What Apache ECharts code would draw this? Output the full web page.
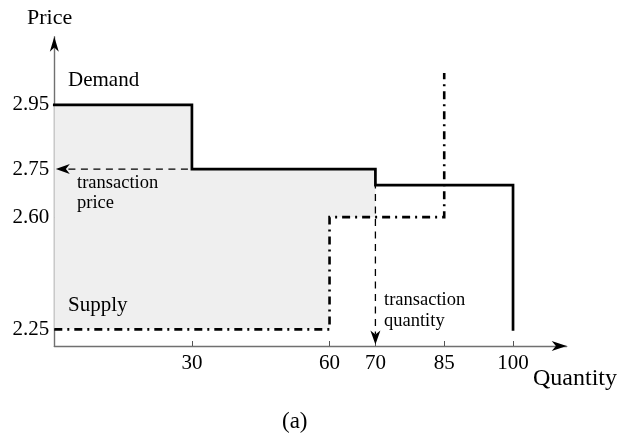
<!DOCTYPE html>
<html>
<head>
<meta charset="utf-8">
<script src="https://cdn.jsdelivr.net/npm/echarts@6/dist/echarts.min.js"></script>
<style>
  html, body { margin: 0; padding: 0; background: #fff; }
  #chart { width: 634px; height: 436px; }
</style>
</head>
<body>
<div id="chart"></div>
<script>
// Tick positions on both axes
const qtyTicks = [30, 60, 70, 85, 100];
const priceTicks = [2.25, 2.60, 2.75, 2.95];

// Demand curve: price steps between quantity breaks
const demandBreaks = [0, 30, 70, 100];
const demandPrices = [2.95, 2.75, 2.70];
const demandFloor = 2.25;      // the curve drops to this price at full quantity

// Supply curve: price steps between quantity breaks
const supplyBreaks = [0, 60, 85];
const supplyPrices = [2.25, 2.60];
const supplyCeiling = 3.05;    // the curve rises to this price at its last break

// Market clearing point
const transactionQty = 70;
const transactionPrice = 2.75;

// Axis extents
const qtyMin = 0, qtyMax = 111.7;
const priceMin = 2.198, priceMax = 3.163;

const FONT = 'Liberation Serif';

// Corner points of a step curve
function stepPoints(breaks, prices) {
  const pts = [];
  for (let i = 0; i < prices.length; i++) {
    pts.push([breaks[i], prices[i]], [breaks[i + 1], prices[i]]);
  }
  return pts;
}
// Step corner points, cut off at quantity q
function stepPointsUpTo(breaks, prices, q) {
  const pts = [];
  for (let i = 0; i < prices.length; i++) {
    const s = breaks[i];
    const e = Math.min(breaks[i + 1] === undefined ? q : breaks[i + 1], q);
    if (s < q) pts.push([s, prices[i]], [e, prices[i]]);
  }
  return pts;
}

const demandLine = stepPoints(demandBreaks, demandPrices)
  .concat([[demandBreaks[demandBreaks.length - 1], demandFloor]]);
const supplyLine = stepPoints(supplyBreaks.slice(0, supplyPrices.length + 1), supplyPrices)
  .concat([[supplyBreaks[supplyBreaks.length - 1], supplyCeiling]]);

// Region between supply and demand up to the transaction quantity
const surplusRegion = stepPointsUpTo(supplyBreaks, supplyPrices, transactionQty)
  .concat(stepPointsUpTo(demandBreaks, demandPrices, transactionQty).reverse());

// Filled arrow head with its tip on b, pointing away from a
function arrowHead(a, b, L, W) {
  const dx = b[0] - a[0], dy = b[1] - a[1];
  const len = Math.hypot(dx, dy);
  const ux = dx / len, uy = dy / len, nx = -uy, ny = ux;
  const notch = [b[0] - ux * L * 0.72, b[1] - uy * L * 0.72];
  return {
    notch: notch,
    el: {
      type: 'polygon',
      shape: { points: [
        b,
        [b[0] - ux * L + nx * W / 2, b[1] - uy * L + ny * W / 2],
        notch,
        [b[0] - ux * L - nx * W / 2, b[1] - uy * L - ny * W / 2]
      ] },
      style: { fill: '#000' }
    }
  };
}

// Dashed guide ending in an arrow head
function arrowGuide(a, b) {
  const head = arrowHead(a, b, 14, 10);
  return [
    {
      type: 'line',
      shape: { x1: a[0], y1: a[1], x2: head.notch[0], y2: head.notch[1] },
      style: { stroke: '#000', lineWidth: 1.3, lineDash: [7, 5.5] }
    },
    head.el
  ];
}

const chart = echarts.init(document.getElementById('chart'), null, { renderer: 'canvas' });

const axisLineStyle = { color: '#707070', width: 1.4 };
const textStyle = (text, size, extra) => Object.assign(
  { text: text, font: size + 'px ' + FONT, fill: '#000' }, extra || {});

chart.setOption({
  animation: false,
  backgroundColor: '#fff',
  grid: { left: 54.3, top: 36.7, width: 512.4, height: 309.3, containLabel: false },
  xAxis: {
    type: 'value',
    min: qtyMin,
    max: qtyMax,
    axisLine: { onZero: false, lineStyle: axisLineStyle },
    axisTick: { inside: true, length: 5, customValues: qtyTicks, lineStyle: { color: '#555', width: 1 } },
    axisLabel: {
      customValues: qtyTicks, margin: 7, color: '#000',
      fontFamily: FONT, fontSize: 21
    },
    splitLine: { show: false }
  },
  yAxis: {
    type: 'value',
    min: priceMin,
    max: priceMax,
    axisLine: { onZero: false, lineStyle: axisLineStyle },
    axisTick: { inside: true, length: 5, customValues: priceTicks, lineStyle: { color: '#555', width: 1 } },
    axisLabel: {
      customValues: priceTicks, margin: 5, color: '#000',
      fontFamily: FONT, fontSize: 21,
      formatter: v => Number(v).toFixed(2)
    },
    splitLine: { show: false }
  },
  series: [
    {
      name: 'surplus',
      type: 'custom',
      silent: true,
      z: 1,
      data: [[transactionQty, transactionPrice]],
      renderItem: (params, api) => ({
        type: 'polygon',
        shape: { points: surplusRegion.map(p => api.coord(p)) },
        style: { fill: '#efefef' }
      })
    },
    {
      name: 'transaction guides',
      type: 'custom',
      silent: true,
      z: 2,
      data: [[transactionQty, transactionPrice]],
      renderItem: (params, api) => {
        const q = api.value(0), p = api.value(1);
        const start = api.coord([q, p]);
        const toPrice = api.coord([qtyMin, p]);
        const toQty = api.coord([q, priceMin]);
        toPrice[0] += 1.5; toQty[1] -= 1.5;
        return { type: 'group', children: arrowGuide(start, toPrice).concat(arrowGuide(start, toQty)) };
      }
    },
    {
      name: 'axis arrows',
      type: 'custom',
      silent: true,
      z: 5,
      data: [[qtyMin, priceMin]],
      renderItem: (params, api) => {
        const origin = api.coord([qtyMin, priceMin]);
        const xEnd = api.coord([qtyMax, priceMin]);
        const yEnd = api.coord([qtyMin, priceMax]);
        return { type: 'group', children: [
          arrowHead(origin, xEnd, 15, 10).el,
          arrowHead(origin, yEnd, 15, 9).el
        ] };
      }
    },
    {
      name: 'Supply',
      type: 'line',
      z: 3,
      data: supplyLine,
      symbol: 'none',
      lineStyle: { color: '#000', width: 2.6, type: [8, 5, 2, 5], join: 'miter', cap: 'butt' }
    },
    {
      name: 'Demand',
      type: 'line',
      z: 4,
      data: demandLine,
      symbol: 'none',
      lineStyle: { color: '#000', width: 2.7, join: 'miter', cap: 'square' }
    }
  ],
  graphic: {
    elements: [
      { type: 'text', z: 100, left: 27, top: 7, style: textStyle('Price', 22) },
      { type: 'text', z: 100, left: 533, top: 367, style: textStyle('Quantity', 24) },
      { type: 'text', z: 100, left: 282, top: 410, style: textStyle('(a)', 23) },
      { type: 'text', z: 100, left: 68, top: 70, style: textStyle('Demand', 21) },
      { type: 'text', z: 100, left: 68, top: 295, style: textStyle('Supply', 21) },
      { type: 'text', z: 100, left: 77, top: 173, style: textStyle('transaction\nprice', 18.5, { lineHeight: 20 }) },
      { type: 'text', z: 100, left: 384, top: 290, style: textStyle('transaction\nquantity', 18.5, { lineHeight: 21 }) }
    ]
  }
});
</script>
</body>
</html>
